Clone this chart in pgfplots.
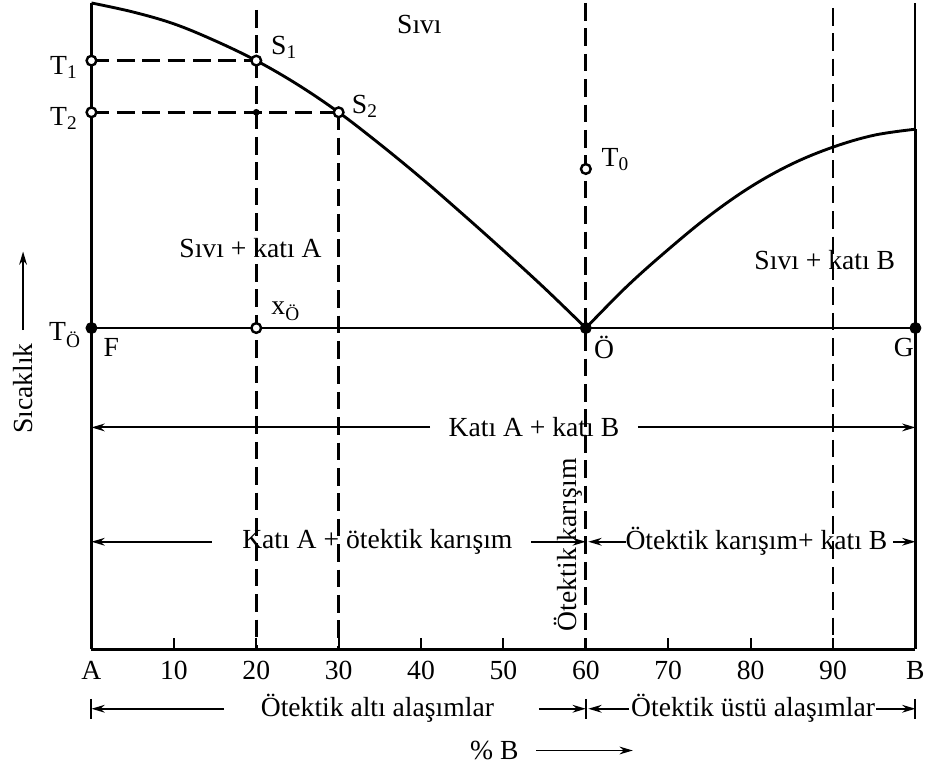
\documentclass[border=0pt]{standalone}
\usepackage{fontspec}
\setmainfont{Liberation Serif}
\usepackage{pgfplots}
\pgfplotsset{compat=1.18}
\usetikzlibrary{arrows.meta}

\begin{document}
\begin{tikzpicture}[
  lbl/.style={font=\fontsize{12.5}{14}\selectfont, inner sep=0pt},
  ar/.style={line width=0.9pt, -{Stealth[length=6pt,width=3.5pt]}},
  bar/.style={line width=0.9pt},
]
\begin{axis}[
  scale only axis, width=373pt, height=292.5pt,
  xmin=0, xmax=100, ymin=0, ymax=650,
  axis x line=bottom, axis y line=left,
  axis line style={line width=1.3pt, -},
  xtick={0,10,...,100},
  xticklabels={A,10,20,30,40,50,60,70,80,90,B},
  x tick label style={font=\fontsize{12.5}{14}\selectfont, yshift=-2pt},
  /pgf/number format/assume math mode=true,
  tick align=inside, major tick length=5pt,
  tick style={line width=0.9pt, black},
  ytick=\empty,
  clip=false,
  dsh/.style={line width=1.25pt, dash pattern=on 8pt off 3.5pt},
  solid line/.style={line width=1.3pt},
]
% liquidus of A
\addplot[solid line, smooth, tension=0.6] coordinates {
  (0,650) (5,641) (10,629) (15,612) (20,592) (25,568) (30,540)
  (35,508) (40,474) (45,438) (50,401) (55,363) (60,323)};
% liquidus of B
\addplot[solid line, smooth, tension=0.6] coordinates {
  (60,323) (65,365) (70,402) (75,436) (80,465) (85,488)
  (90,505) (95,517) (100,523)};
% eutectic isotherm F--G
\addplot[solid line] coordinates {(0,323) (100,323)};
% pure B
\addplot[solid line] coordinates {(100,0) (100,523)};
\addplot[line width=0.9pt] coordinates {(100,523) (100,650)};

% alloy verticals
\addplot[dsh] coordinates {(20,643) (20,0)};
\addplot[dsh] coordinates {(30,540) (30,0)};
\addplot[dsh] coordinates {(60,650) (60,0)};
\addplot[dsh] coordinates {(90,645) (90,0)};
% temperature levels T1, T2
\addplot[dsh] coordinates {(0,592) (20,592)};
\addplot[dsh] coordinates {(0,540) (30,540)};

% points
\addplot[only marks, mark=*, mark size=2.2pt,
  mark options={fill=white, draw=black, line width=1.1pt}]
  coordinates {(0,592) (0,540) (20,592) (30,540) (60,483) (20,323)};
\addplot[only marks, mark=*, mark size=1.3pt] coordinates {(20,540)};
\addplot[only marks, mark=*, mark size=2.5pt]
  coordinates {(0,323) (60,323) (100,323)};

% point labels
\node[lbl, anchor=east] at (axis cs:-1.6,585) {T\textsubscript{1}};
\node[lbl, anchor=east] at (axis cs:-1.6,534) {T\textsubscript{2}};
\node[lbl, anchor=east] at (axis cs:-1.2,316) {T\textsubscript{Ö}};
\node[lbl] at (axis cs:2.4,303) {F};
\node[lbl] at (axis cs:23.4,605) {S\textsubscript{1}};
\node[lbl] at (axis cs:33.2,546) {S\textsubscript{2}};
\node[lbl] at (axis cs:23.6,340) {x\textsubscript{Ö}};
\node[lbl] at (axis cs:63.6,492) {T\textsubscript{0}};
\node[lbl] at (axis cs:62.2,303) {Ö};
\node[lbl] at (axis cs:98.6,303) {G};

% phase fields
\node[lbl] at (axis cs:39.8,628) {Sıvı};
\node[lbl] at (axis cs:19.3,403) {Sıvı + katı A};
\node[lbl] at (axis cs:89.0,391) {Sıvı + katı B};

% solid region, row 1
\node[lbl] at (axis cs:53.7,223) {Katı A + katı B};
\draw[ar] (axis cs:41.1,223) -- (axis cs:0,223);
\draw[ar] (axis cs:66.3,223) -- (axis cs:100,223);

% solid region, row 2
\node[lbl] at (axis cs:34.7,108) {Katı A + ötektik karışım};
\draw[ar] (axis cs:14.6,108) -- (axis cs:0,108);
\draw[ar] (axis cs:53.4,108) -- (axis cs:60,108);
\draw[ar] (axis cs:64.9,108) -- (axis cs:60.3,108);
\node[lbl] at (axis cs:80.7,108) {Ötektik karışım+ katı B};
\draw[ar] (axis cs:97.3,108) -- (axis cs:100,108);
\node[lbl, rotate=90] at (axis cs:57.9,105) {Ötektik karışım};

% alloy ranges below the composition axis
\node[lbl] at (axis cs:34.7,-60) {Ötektik altı alaşımlar};
\draw[ar] (axis cs:16.1,-60) -- (axis cs:0,-60);
\draw[ar] (axis cs:54.3,-60) -- (axis cs:60,-60);
\draw[ar] (axis cs:65.2,-60) -- (axis cs:60.3,-60);
\node[lbl] at (axis cs:80.3,-60) {Ötektik üstü alaşımlar};
\draw[ar] (axis cs:95.2,-60) -- (axis cs:100,-60);
\draw[bar] (axis cs:0,-50) -- (axis cs:0,-70);
\draw[bar] (axis cs:60,-50) -- (axis cs:60,-70);
\draw[bar] (axis cs:100,-50) -- (axis cs:100,-70);

% axis titles
\node[lbl] at (axis cs:48.9,-102) {\% B};
\draw[ar] (axis cs:54,-102) -- (axis cs:65.7,-102);
\node[lbl, rotate=90] at (axis cs:-8.3,262) {Sıcaklık};
\draw[ar] (axis cs:-8.3,321) -- (axis cs:-8.3,400);

% page extent
\path (axis cs:-11.1,-122) rectangle (axis cs:101.33,653);
\end{axis}
\end{tikzpicture}
\end{document}
